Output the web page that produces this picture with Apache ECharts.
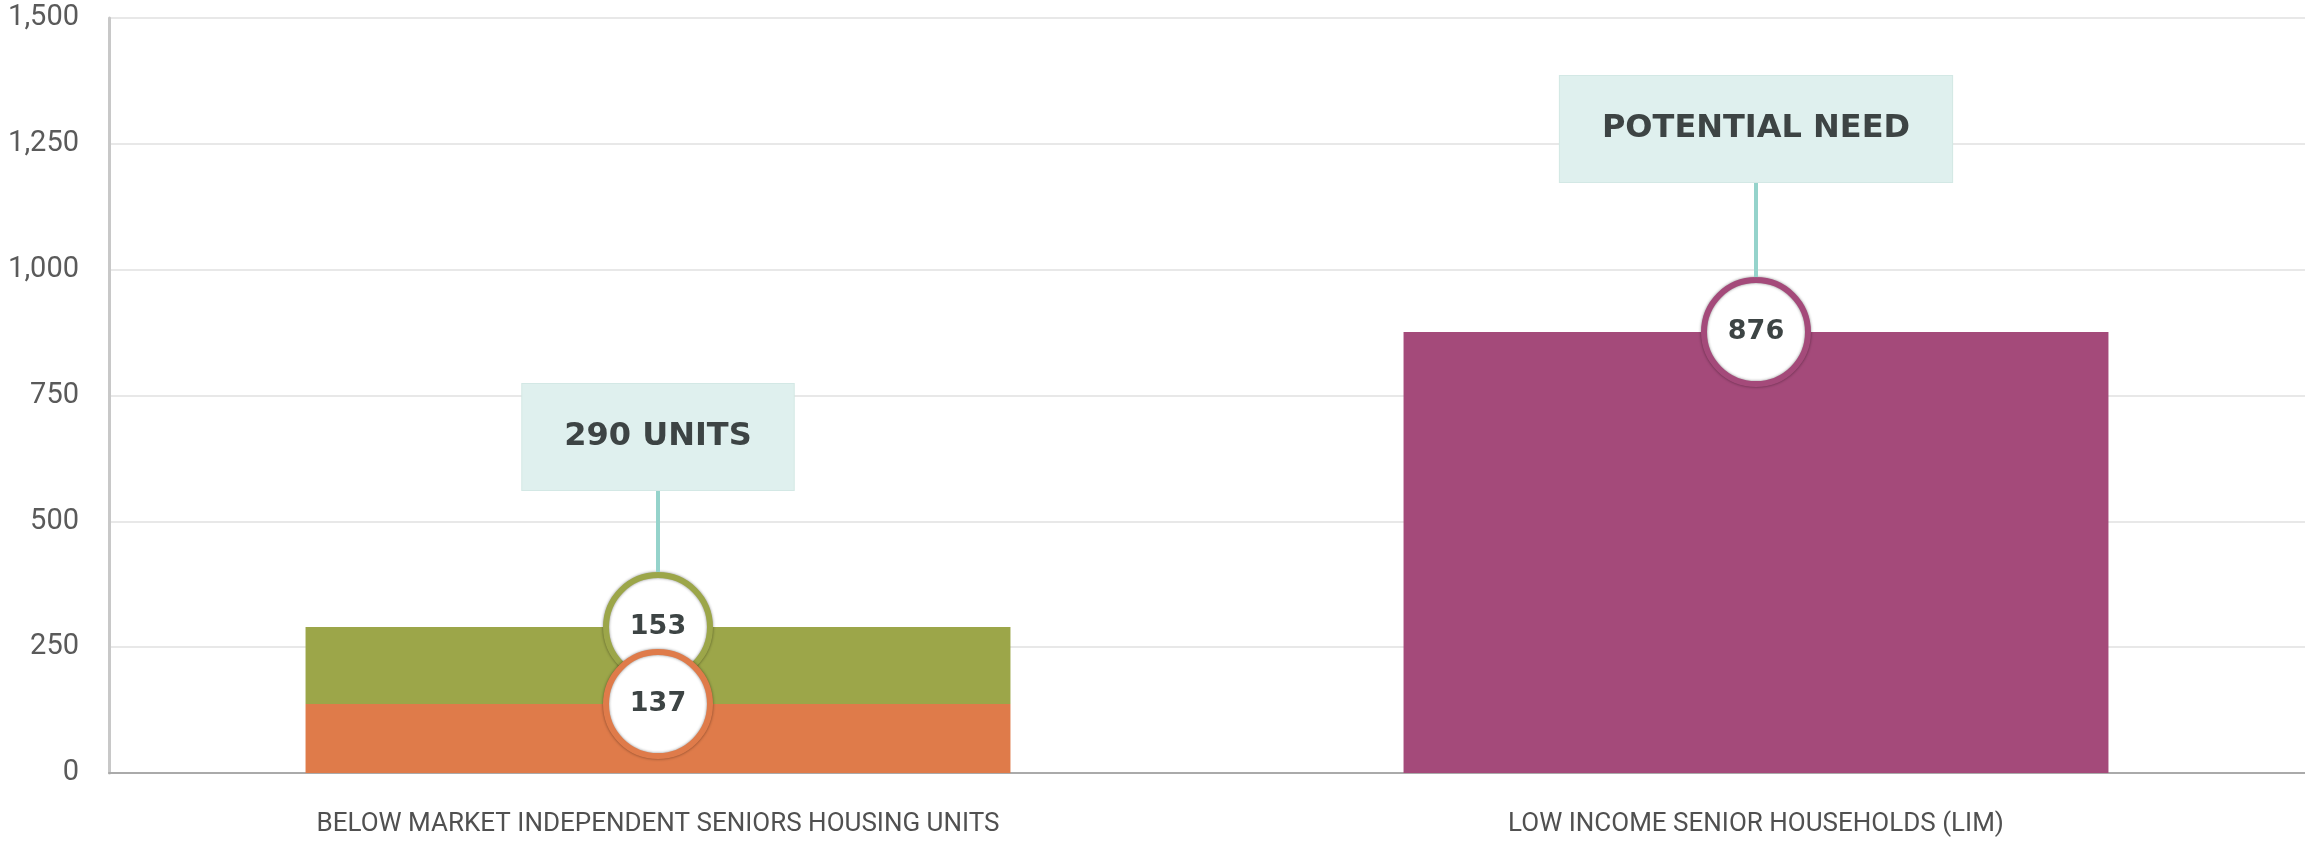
<!DOCTYPE html>
<html><head><meta charset="utf-8">
<script src="https://cdn.jsdelivr.net/npm/echarts@6/dist/echarts.min.js"></script>
<style>html,body{margin:0;padding:0;background:#fff}#c{width:2305px;height:844px}</style>
</head><body><div id="c"></div>
<script>
// ---- data ----
const categories = ['BELOW MARKET INDEPENDENT SENIORS HOUSING UNITS', 'LOW INCOME SENIOR HOUSEHOLDS (LIM)'];
const lowerUnits = [137, null];          // orange segment
const upperUnits = [153, null];          // green segment
const lowIncomeHouseholds = [null, 876]; // purple bar
const yTicks = [0, 250, 500, 750, 1000, 1250, 1500];
const calloutTitles = [null, 'POTENTIAL NEED']; // first one derived from total

// ---- styles ----
const COLORS = { lower: '#df7b4a', upper: '#9ca649', low: '#a44a7a' };
const TEXT_DARK = '#3d4444';
const BOLD_FONT = '"DejaVu Sans"';
const CALLOUT_OFFSET = [190, 203]; // px from circle centre to callout centre
const CIRCLE = 104, RING = 6;

const total0 = lowerUnits[0] + upperUnits[0];
const calloutTexts = [total0 + ' UNITS', calloutTitles[1]];

const dash = a => a.map(v => v == null ? '-' : v);

const circleData = [
  { value: [categories[1], lowIncomeHouseholds[1], lowIncomeHouseholds[1]], itemStyle: { borderColor: COLORS.low } },
  { value: [categories[0], total0, upperUnits[0]], itemStyle: { borderColor: COLORS.upper } },
  { value: [categories[0], lowerUnits[0], lowerUnits[0]], itemStyle: { borderColor: COLORS.lower } }
];

const chart = echarts.init(document.getElementById('c'));
const barCommon = { type: 'bar', stack: 'total', barWidth: '64.2%', emphasis: { disabled: true } };
chart.setOption({
  animation: false,
  grid: { left: 109, right: 0, top: 18, bottom: 71 },
  xAxis: {
    type: 'category', data: categories,
    axisLine: { lineStyle: { color: '#aaaaaa', width: 2 } },
    axisTick: { show: false },
    axisLabel: { margin: 38, fontFamily: 'Roboto', fontSize: 26, color: '#505050' }
  },
  yAxis: {
    type: 'value', min: yTicks[0], max: yTicks[yTicks.length - 1], interval: yTicks[1] - yTicks[0],
    axisLine: { show: true, lineStyle: { color: '#c8c8c8', width: 3 } },
    axisTick: { show: false },
    splitLine: { lineStyle: { color: '#e8e8e8', width: 2 } },
    axisLabel: { margin: 30, fontFamily: 'Roboto', fontSize: 29, color: '#5a5a5a' }
  },
  series: [
    Object.assign({}, barCommon, { name: 'lower', data: dash(lowerUnits), itemStyle: { color: COLORS.lower } }),
    Object.assign({}, barCommon, { name: 'upper', data: dash(upperUnits), itemStyle: { color: COLORS.upper } }),
    Object.assign({}, barCommon, { name: 'low', data: dash(lowIncomeHouseholds), itemStyle: { color: COLORS.low } }),
    {
      type: 'scatter', z: 5, symbol: 'circle', symbolSize: CIRCLE,
      data: circleData,
      itemStyle: { color: '#ffffff', borderWidth: RING, shadowBlur: 3, shadowColor: 'rgba(0,0,0,0.45)', opacity: 1 },
      label: { show: true, position: 'inside', formatter: p => p.value[2], fontFamily: BOLD_FONT, fontWeight: 'bold', fontSize: 27, color: TEXT_DARK },
      emphasis: { disabled: true }
    }
  ]
});

// callouts anchored to the top circles
const anchors = [circleData[1].value, circleData[0].value];
const graphics = [];
anchors.forEach((v, i) => {
  const p = chart.convertToPixel({ seriesIndex: 3 }, [v[0], v[1]]);
  const cy = p[1] - CALLOUT_OFFSET[i];
  const boxH = 106;
  graphics.push({
    type: 'line', z: 9,
    shape: { x1: p[0], y1: cy + boxH / 2 - 2, x2: p[0], y2: p[1] - CIRCLE / 2 - RING / 2 },
    style: { stroke: '#95d3cb', lineWidth: 4 }
  });
  graphics.push({
    type: 'text', z: 10, x: p[0], y: cy,
    style: {
      text: calloutTexts[i], fill: TEXT_DARK,
      font: 'bold 32px ' + BOLD_FONT,
      align: 'center', verticalAlign: 'middle',
      backgroundColor: '#dff0ee', borderColor: '#d3e8e5', borderWidth: 1,
      padding: [37, 42], lineHeight: 32
    }
  });
});
chart.setOption({ graphic: graphics });
</script></body></html>
